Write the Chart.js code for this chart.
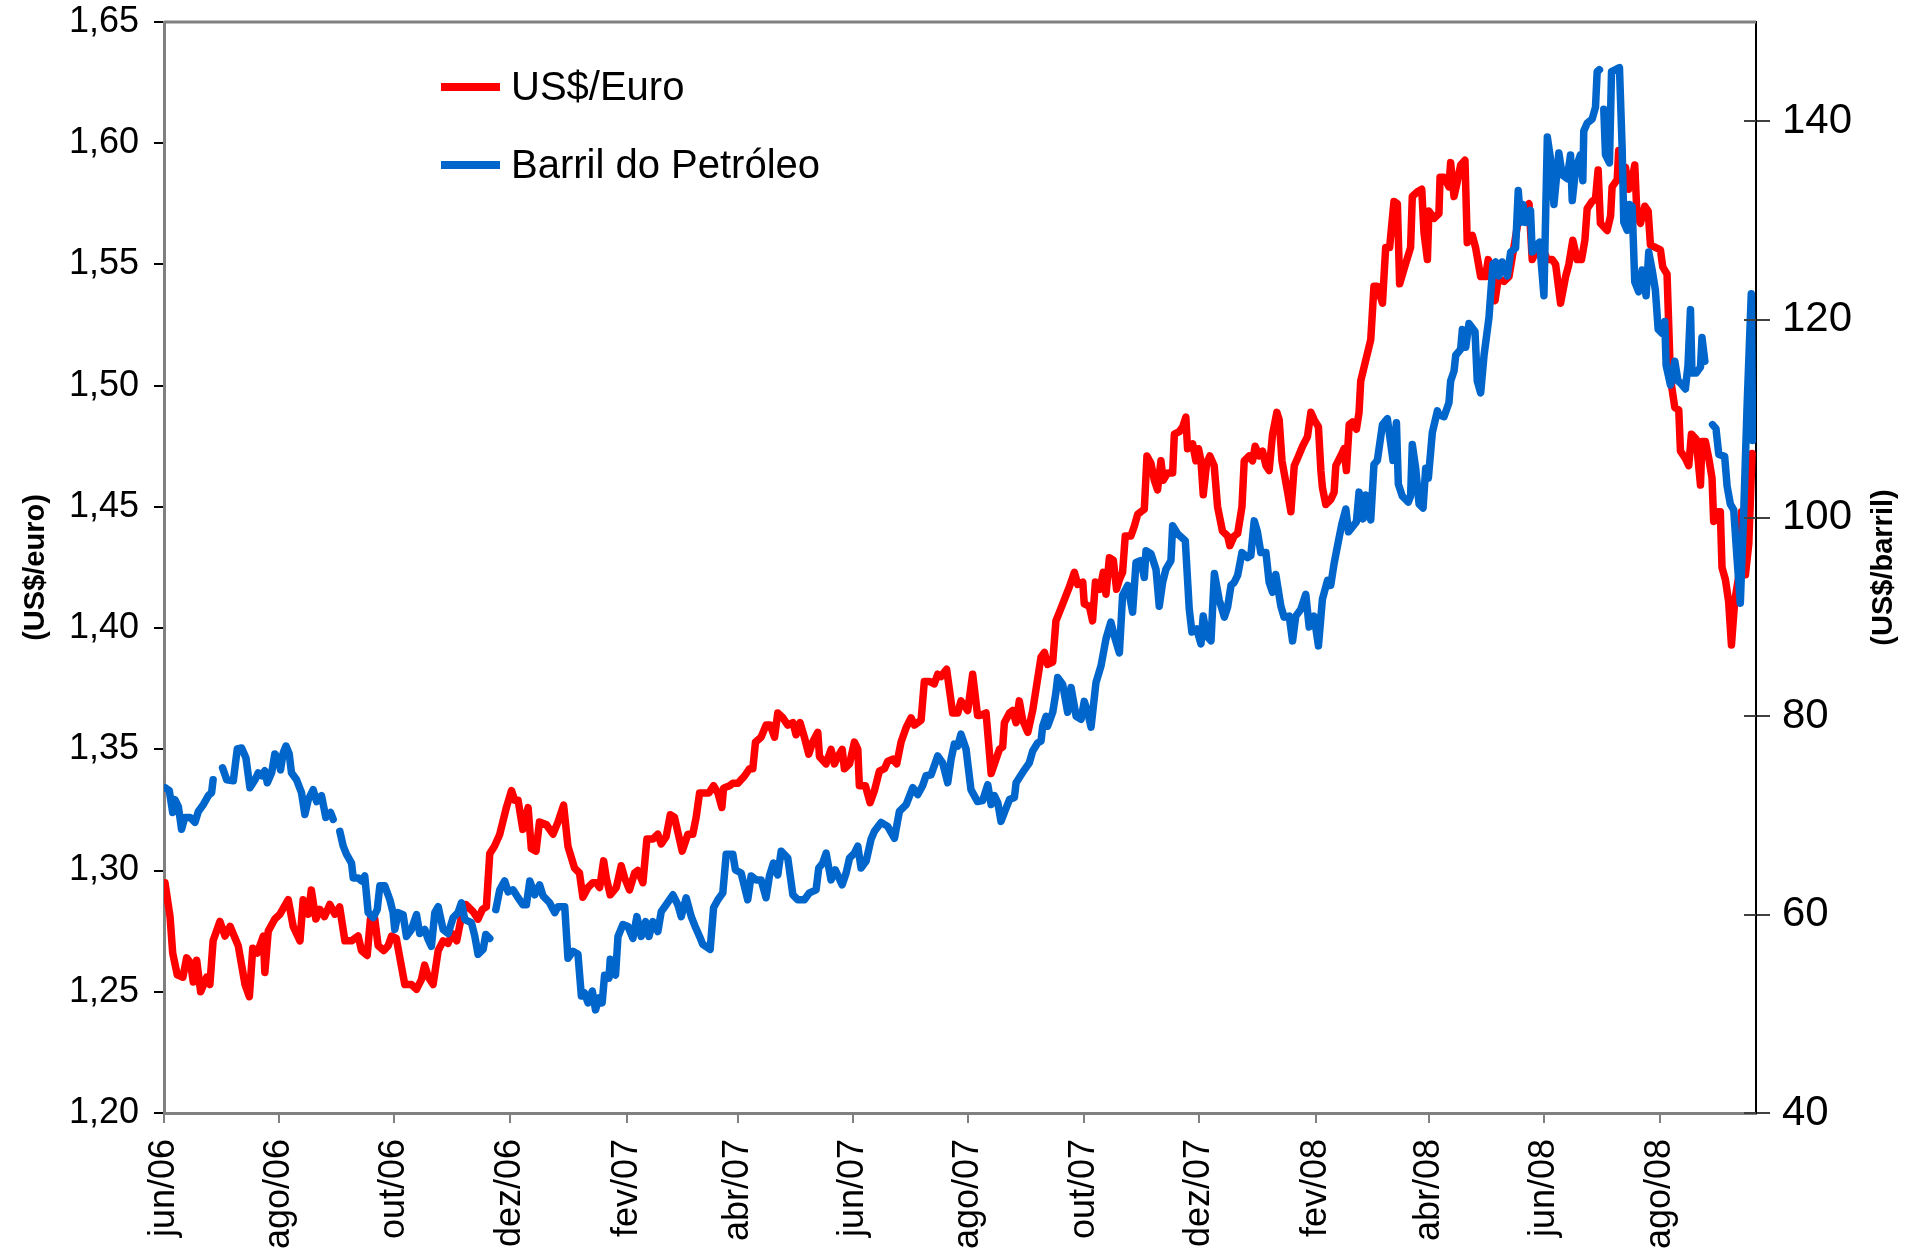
<!DOCTYPE html>
<html lang="pt-BR">
<head>
<meta charset="utf-8">
<title>US$/Euro e Barril do Petróleo</title>
<script src="https://cdn.jsdelivr.net/npm/chart.js@4.4.1/dist/chart.umd.min.js"></script>
<style>
  html, body { margin: 0; padding: 0; background: #fff; }
  #grafico { display: block; }
</style>
</head>
<body>
<canvas id="grafico" width="1907" height="1252"></canvas>
<script>
// Eixo X: dias corridos desde 01/jun/2006
const rotulos = ['jun/06', 'ago/06', 'out/06', 'dez/06', 'fev/07', 'abr/07', 'jun/07',
                 'ago/07', 'out/07', 'dez/07', 'fev/08', 'abr/08', 'jun/08', 'ago/08'];
const diasRotulos = [0, 61, 122, 183, 245, 304, 365, 426, 487, 548, 610, 670, 731, 792];
const ultimoDia = 843;

// US$/Euro (eixo esquerdo)
const diasEuro = [
  0.5, 3.2, 4.6, 7, 10, 12, 14, 15.5, 17.3, 19.4,
  22.6, 24.3, 26, 29.6, 32.3, 35, 39.3, 42.9, 45.2, 47,
  49.4, 52.6, 53.4, 55.2, 58.7, 61.4, 65.8, 68.4, 72, 73.7,
  76.4, 78, 80.4, 82.5, 85, 87.8, 90.5, 93, 95.8, 99.3,
  102.8, 104.6, 107.6, 109.3, 111.6, 113.4, 116.4, 118.7, 120.5, 123,
  124.9, 127.5, 131, 133.7, 136.3, 138, 140, 142.5, 145.2, 147.8,
  150.4, 152.7, 155, 157.5, 159.8, 163.7, 166.3, 168.6, 170.7, 172.5,
  175, 177.8, 181.3, 184, 185.7, 187.5, 190, 192.8, 194.5, 197,
  198.8, 202.4, 206, 208.6, 211.6, 213.9, 217.4, 220, 221.8, 224.5,
  227.1, 228.9, 230.7, 232.8, 234.2, 236.3, 239.5, 242.1, 243.9, 246.5,
  249.2, 250.9, 253.6, 255.7, 258.9, 261.5, 263.3, 265.9, 268.1, 270.3,
  274.4, 277.4, 280, 281.8, 283.6, 286.2, 288.5, 291, 293.3, 295.4,
  296.3, 299.5, 301.2, 303.9, 307.4, 310, 311.8, 313.2, 316.2, 318.8,
  321, 323.3, 325, 327.7, 330.3, 333, 334.7, 336.8, 339.1, 341.4,
  343.5, 346.2, 347.1, 350.6, 353.2, 355, 356.8, 359.1, 360.3, 363,
  365.6, 367.4, 368.2, 371.4, 373.9, 376.2, 378.8, 381.5, 383.2, 385.9,
  388, 390.3, 393, 395.6, 397.3, 400.9, 402.6, 405.3, 407.9, 409.7,
  411.4, 414.4, 416.2, 417.6, 420.3, 422, 423.8, 425.6, 428.2, 430.8,
  432.1, 435.3, 438, 440.6, 442.4, 444.1, 445, 447.7, 449.4, 451.2,
  452.9, 454.7, 457.4, 460, 462.6, 464.4, 466.2, 467.9, 470.6, 472.3,
  475.9, 479.4, 482.1, 483.8, 486.5, 487.3, 490, 491.7, 493.2, 495.6,
  497.4, 498.8, 500.6, 502.7, 504.4, 505.9, 507.6, 509, 512, 513.8,
  515.6, 517.3, 519.1, 520.5, 522.6, 524.4, 526.1, 527.9, 529.1, 531.4,
  534.1, 535, 537.6, 539.4, 541.1, 542, 544.7, 546.4, 547.8, 549.1,
  550.3, 552.1, 553.8, 556.1, 557.9, 560.5, 563.2, 564.4, 566.7, 568.5,
  570.8, 572, 574.6, 576.4, 577.8, 579.9, 581.7, 583.5, 585.2, 587,
  589.3, 590.5, 592, 595, 596.7, 598.5, 600.2, 602.9, 605.5, 607.3,
  609, 611.3, 612.6, 613.4, 615.2, 617.8, 619.6, 620.5, 623.1, 624.9,
  626.1, 627.6, 629.3, 631.4, 632.8, 633.7, 639, 640.7, 642.5, 645.2,
  646.9, 649, 651.3, 653.1, 654.3, 656.6, 660.1, 661, 663.7, 666,
  667.2, 669, 669.8, 672.5, 675.1, 675.7, 677.8, 680.4, 681.3, 683.1,
  684.8, 686.6, 688.9, 690.1, 692.8, 694.5, 697.2, 699.8, 701.2, 703,
  704.8, 706.5, 709.5, 712.2, 714.8, 717.5, 720.1, 722.8, 724.5, 727.2,
  729.8, 732.5, 735.1, 736.9, 739.5, 742.2, 743.9, 746, 748.3, 750.6,
  752.4, 753.6, 756.2, 758, 759.4, 760.6, 764.2, 766, 766.8, 769.5,
  770.3, 772.1, 773.9, 775.6, 777.4, 778.8, 780, 781.8, 784.1, 785.9,
  787.1, 789.7, 792.4, 793.6, 795.9, 797.7, 800, 802.1, 803, 805.6,
  807.4, 808.8, 811.3, 813.6, 814.4, 816.2, 818, 819.7, 820.6, 822.4,
  824.1, 825, 826.8, 828.5, 830, 831.7, 833.8, 835.3, 837.4, 839.2,
  840.9
];
const usdEuro = [
  1.295, 1.281, 1.266, 1.257, 1.256, 1.264, 1.262, 1.254, 1.263, 1.250,
  1.256, 1.253, 1.271, 1.279, 1.273, 1.277, 1.269, 1.253, 1.248, 1.268,
  1.266, 1.273, 1.258, 1.275, 1.280, 1.282, 1.288, 1.277, 1.271, 1.288,
  1.282, 1.292, 1.280, 1.284, 1.281, 1.286, 1.282, 1.285, 1.271, 1.271,
  1.273, 1.267, 1.265, 1.280, 1.280, 1.269, 1.267, 1.269, 1.273, 1.272,
  1.264, 1.253, 1.253, 1.251, 1.255, 1.261, 1.256, 1.253, 1.267, 1.271,
  1.270, 1.274, 1.271, 1.281, 1.286, 1.283, 1.280, 1.284, 1.285, 1.307,
  1.310, 1.315, 1.326, 1.333, 1.329, 1.329, 1.317, 1.326, 1.309, 1.308,
  1.320, 1.319, 1.315, 1.320, 1.327, 1.310, 1.301, 1.299, 1.289, 1.293,
  1.295, 1.295, 1.293, 1.304, 1.297, 1.290, 1.293, 1.302, 1.297, 1.292,
  1.299, 1.300, 1.295, 1.313, 1.313, 1.315, 1.311, 1.314, 1.323, 1.322,
  1.308, 1.315, 1.315, 1.322, 1.332, 1.332, 1.332, 1.335, 1.332, 1.326,
  1.334, 1.335, 1.336, 1.336, 1.339, 1.342, 1.342, 1.353, 1.355, 1.360,
  1.360, 1.355, 1.365, 1.363, 1.360, 1.361, 1.356, 1.361, 1.355, 1.348,
  1.353, 1.357, 1.347, 1.344, 1.350, 1.344, 1.347, 1.350, 1.342, 1.344,
  1.353, 1.350, 1.335, 1.335, 1.328, 1.333, 1.341, 1.342, 1.345, 1.346,
  1.344, 1.353, 1.359, 1.363, 1.360, 1.362, 1.378, 1.378, 1.377, 1.381,
  1.380, 1.383, 1.373, 1.365, 1.365, 1.370, 1.368, 1.366, 1.381, 1.364,
  1.364, 1.365, 1.340, 1.346, 1.350, 1.351, 1.361, 1.365, 1.366, 1.361,
  1.370, 1.362, 1.357, 1.366, 1.379, 1.388, 1.390, 1.385, 1.386, 1.403,
  1.410, 1.417, 1.423, 1.418, 1.419, 1.410, 1.409, 1.403, 1.419, 1.416,
  1.423, 1.414, 1.429, 1.428, 1.416, 1.420, 1.423, 1.438, 1.438, 1.442,
  1.447, 1.448, 1.449, 1.471, 1.468, 1.461, 1.457, 1.469, 1.461, 1.464,
  1.464, 1.480, 1.481, 1.483, 1.487, 1.474, 1.476, 1.469, 1.474, 1.469,
  1.455, 1.468, 1.471, 1.467, 1.450, 1.440, 1.438, 1.434, 1.438, 1.439,
  1.450, 1.469, 1.471, 1.469, 1.475, 1.471, 1.473, 1.467, 1.465, 1.480,
  1.489, 1.486, 1.469, 1.456, 1.448, 1.467, 1.470, 1.475, 1.479, 1.489,
  1.486, 1.483, 1.465, 1.458, 1.451, 1.453, 1.456, 1.467, 1.471, 1.474,
  1.465, 1.484, 1.485, 1.482, 1.489, 1.502, 1.519, 1.541, 1.541, 1.534,
  1.557, 1.557, 1.576, 1.575, 1.542, 1.548, 1.557, 1.578, 1.580, 1.581,
  1.563, 1.552, 1.572, 1.569, 1.571, 1.586, 1.586, 1.582, 1.592, 1.578,
  1.584, 1.591, 1.593, 1.559, 1.562, 1.557, 1.545, 1.545, 1.552, 1.547,
  1.535, 1.544, 1.543, 1.545, 1.557, 1.570, 1.573, 1.575, 1.552, 1.557,
  1.557, 1.552, 1.552, 1.550, 1.534, 1.545, 1.550, 1.560, 1.552, 1.552,
  1.560, 1.573, 1.576, 1.577, 1.589, 1.567, 1.564, 1.570, 1.582, 1.585,
  1.597, 1.585, 1.590, 1.581, 1.585, 1.591, 1.570, 1.567, 1.574, 1.572,
  1.558, 1.557, 1.556, 1.549, 1.546, 1.503, 1.491, 1.490, 1.473, 1.470,
  1.467, 1.480, 1.478, 1.459, 1.477, 1.477, 1.470, 1.462, 1.444, 1.448,
  1.448, 1.425, 1.420, 1.411, 1.393, 1.411, 1.421, 1.448, 1.422, 1.435,
  1.472
];

// Barril do petróleo em US$ (eixo direito); null = sem cotação
const diasBarril = [
  0.5, 2.8, 4.6, 5.8, 7.6, 9.3, 11, 13.8, 16.4, 18.2,
  20.8, 23.5, 25.2, 26, 28.5, 31, 33.2, 36.7, 38.8, 41.1,
  43.4, 45.5, 48.2, 49.9, 51.7, 53.4, 54.7, 57, 58.7, 60.5,
  61.7, 63.1, 64.6, 66.3, 67.5, 70.2, 72.8, 74.6, 76.4, 79,
  80.8, 83.4, 85.7, 88.2, 89.6, 91.5, 93.1, 94.9, 96.6, 99.3,
  100.2, 102.8, 104.6, 106.3, 108.1, 110.8, 112.9, 114.3, 116.9, 119.6,
  121.3, 122.2, 124, 126.6, 128.4, 131, 133.7, 135.4, 138.1, 139.9,
  141.6, 143.4, 145.2, 147.8, 150.5, 153.1, 155.7, 157.5, 159.3, 162.8,
  164.6, 166.3, 169, 170.4, 172.5, 174, 175.7, 177.8, 180.4, 182.2,
  184.8, 187.5, 190.1, 191.9, 193.7, 196.3, 198.9, 200.7, 204.2, 206.9,
  208.6, 212.2, 213.9, 216.5, 219.2, 221, 222.7, 224.5, 226.8, 228.5,
  230.3, 232, 233.3, 235.6, 236.3, 239.1, 240.4, 243, 245.7, 248.3,
  250.4, 252.7, 255, 256.8, 258.9, 261.5, 263.3, 265.9, 269.5, 272.1,
  273.9, 276.5, 279.2, 281.5, 283.6, 285.3, 289.2, 291, 293.3, 295.9,
  297.7, 301.2, 302.6, 305.6, 309.1, 310.9, 313.6, 316.2, 318.8, 320.6,
  322.7, 325, 326.8, 330.3, 333, 335.6, 339.1, 341.8, 345.3, 346.7,
  348.8, 350.6, 353.2, 355.5, 359.1, 361.2, 363, 365.6, 367.4, 369.1,
  371.8, 374.4, 376.2, 379.7, 383.2, 386.8, 389.4, 393, 396.5, 399.1,
  401.7, 403.5, 406.2, 409.7, 412.3, 415, 416.8, 418.5, 420.3, 422,
  424.7, 427.3, 430.8, 433.5, 436.2, 438, 439.7, 441.5, 443.2, 445,
  447.7, 450.3, 451.2, 452.9, 455.6, 458.2, 460, 462.6, 464.4, 465.3,
  467.1, 467.9, 470.6, 472.3, 473.2, 475.9, 478.5, 480.3, 483, 485.6,
  487.3, 489.1, 490.9, 493.5, 496.2, 498.8, 501.4, 503.2, 505.9, 507.6,
  510.3, 512.9, 514.7, 517.3, 519.1, 520, 522.6, 525.3, 527, 528.8,
  530.5, 533.2, 534.1, 536.7, 540.8, 542.9, 544.3, 546.8, 549.1, 550.3,
  552.1, 554.4, 556.2, 558.8, 561.5, 563.2, 565, 566.7, 568.5, 570.8,
  573.8, 575.5, 577.3, 579, 580.8, 583.5, 585.2, 587, 588.7, 591.4,
  593.1, 595.8, 597.6, 599.3, 602, 604.6, 606.4, 609, 611.3, 613.4,
  616.1, 617.8, 619.6, 621.4, 623.7, 625.8, 627.2, 629.3, 631.4, 632.8,
  635, 636.4, 639, 640.7, 642.5, 645.2, 647.8, 650.8, 652.6, 653.6,
  655.7, 658.9, 660.1, 661, 662.8, 664.6, 666.7, 668.1, 669.5, 671.6,
  674.3, 675.1, 677.8, 680.4, 681.3, 683.1, 684, 686.6, 687.5, 689.3,
  691, 694.2, 695.4, 697.2, 699, 701.6, 703.7, 705.1, 706.9, 708.6,
  711.3, 713.1, 715.7, 717.1, 718.4, 719.6, 721, 723.6, 724.5, 726.3,
  728.4, 730.7, 732.5, 734.2, 736, 738.6, 740.4, 743, 744.8, 745.7,
  747.5, 750, 751.3, 751.8, 753.6, 756.2, 758, 758.9, 760.1, 761.2,
  762.4, 763.3, 765.4, 766.5, 768.6, 770.7, 772.1, 773, 774.8, 776,
  777.4, 778.8, 780.9, 782.7, 784.8, 786.2, 788, 789.7, 791.2, 793.3,
  794.7, 795.4, 797.7, 800, 801.7, 803, 805.6, 807, 808.3, 809.1,
  811.3, 813.6, 814.4, 815.9, 818, 820, 821.8, 823.3, 826.4, 827.7,
  829.4, 831.2, 833, 834.7, 836.5, 838.3, 840.5, 841.2
];
const barril = [
  72.8, 72.5, 70.3, 71.6, 70.9, 68.6, 69.8, 69.8, 69.3, 70.4,
  71.1, 72.0, 72.3, 73.6, null, 74.8, 73.6, 73.5, 76.7, 76.8,
  75.8, 72.8, 73.6, 74.3, 74.0, 74.5, 73.3, 74.3, 76.2, 75.7,
  74.6, 76.3, 77.0, 76.2, 74.3, 73.6, 72.3, 70.1, 71.6, 72.6,
  71.4, 72.0, 69.8, 70.3, 69.6, null, 68.4, 66.9, 66.1, 65.2,
  63.7, 63.7, 63.4, 63.9, 60.2, 59.7, 60.5, 62.9, 62.9, 61.5,
  60.2, 58.5, 60.2, 60.0, 57.8, 58.5, 60.0, 58.1, 58.5, 57.5,
  56.8, 60.2, 60.8, 58.5, 58.1, 59.7, 60.2, 61.2, 59.5, 59.2,
  57.8, 56.0, 56.5, 58.0, 57.6, null, 60.5, 62.5, 63.4, 62.3,
  62.5, 61.7, 61.0, 61.0, 63.4, 62.0, 63.0, 61.9, 61.2, 60.2,
  60.8, 60.8, 55.6, 56.3, 56.0, 51.8, 52.1, 51.1, 52.3, 50.4,
  51.6, 51.1, 53.9, 53.6, 55.5, 53.9, 57.8, 59.0, 58.8, 57.6,
  59.8, 57.8, 59.3, 57.8, 59.3, 58.3, 60.3, 61.0, 62.0, 61.0,
  59.8, 61.7, 59.8, 58.7, 57.8, 57.0, 56.5, 60.7, 61.5, 62.2,
  66.1, 66.1, 64.5, 64.2, 61.5, 63.9, 63.5, 63.5, 61.7, 63.9,
  65.2, 64.0, 66.4, 65.7, 62.0, 61.5, 61.5, 62.2, 62.5, 64.7,
  65.2, 66.2, 63.5, 64.5, 63.0, 64.2, 65.7, 66.2, 66.9, 64.7,
  65.4, 67.6, 68.4, 69.3, 68.9, 67.7, 70.4, 71.1, 72.8, 72.1,
  73.0, 74.0, 74.1, 76.0, 75.3, 73.3, 75.7, 77.2, 77.0, 78.2,
  76.7, 72.6, 71.4, 71.5, 73.1, 71.1, 72.0, 71.3, 69.4, 70.3,
  71.6, 71.8, 73.3, 73.8, 74.6, 75.3, 76.5, 77.3, 77.5, 79.0,
  80.0, 79.0, 80.4, 82.4, 83.9, 83.2, 80.4, 82.9, 80.0, 79.7,
  81.5, 80.4, 78.9, 83.4, 85.1, 87.8, 89.5, 88.1, 86.4, 92.2,
  93.2, 90.5, 95.5, 95.7, 94.0, 96.7, 96.4, 94.8, 91.1, 93.5,
  94.8, 95.7, 99.2, 98.4, 97.7, 90.8, 88.5, 88.8, 87.3, 90.1,
  88.1, 87.6, 94.4, 91.7, 90.0, 91.0, 93.2, 93.5, 94.2, 96.5,
  96.0, 96.2, 99.7, 98.6, 96.5, 96.5, 93.5, 92.5, 94.3, 91.1,
  90.0, 90.1, 87.6, 90.1, 90.8, 92.3, 89.0, 90.1, 87.1, 91.8,
  93.7, 93.2, 95.4, 97.2, 99.4, 100.9, 98.6, 99.1, 99.6, 102.6,
  99.9, 102.3, 99.8, 105.4, 105.8, 109.4, 110.0, 105.8, 109.6, 103.4,
  102.2, 101.6, 102.2, 107.4, 105.0, 101.4, 101.0, 105.0, 104.0, 108.6,
  110.8, 110.4, 110.2, 111.6, 113.8, 114.8, 116.4, 117.0, 119.0, 117.2,
  119.6, 118.8, 113.8, 112.6, 116.4, 120.2, 125.6, 125.8, 124.4, 125.8,
  124.4, 126.8, 127.2, 133.0, 129.8, 131.6, 129.8, 131.0, 126.8, 127.4,
  127.8, 122.4, 138.4, 136.2, 131.6, 136.8, 134.6, 134.2, 136.6, 132.0,
  135.2, 136.6, 134.0, 139.0, 139.8, 140.2, 141.4, 145.0, 145.2, null,
  141.2, 136.6, 135.8, 145.0, 145.2, 145.4, 137.4, 129.8, 129.0, 131.6,
  131.4, 123.8, 122.8, 125.0, 122.4, 126.8, 125.0, 123.0, 119.0, 118.6,
  119.8, 115.4, 113.4, 115.8, 113.8, 113.6, 113.0, 115.4, 121.0, 114.6,
  114.6, 115.2, 118.2, 115.8, null, 109.4, 109.0, 106.4, 106.2, 103.2,
  101.4, 100.8, 95.8, 91.4, 100.6, 111.4, 122.6, 107.8
];

const fonte = "'Liberation Sans', Arial, sans-serif";
const corEuro = '#ff0000';
const corBarril = '#0066cc';

// legenda desenhada dentro da área do gráfico, como no original
const legendaManual = {
  id: 'legendaManual',
  afterDraw(chart) {
    const ctx = chart.ctx;
    ctx.save();
    ctx.font = '40px ' + fonte;
    ctx.textBaseline = 'middle';
    ctx.fillStyle = '#000';
    chart.data.datasets.forEach((ds, i) => {
      const y = 87 + i * 78;
      ctx.strokeStyle = ds.borderColor;
      ctx.lineWidth = 8;
      ctx.beginPath();
      ctx.moveTo(441, y);
      ctx.lineTo(500, y);
      ctx.stroke();
      ctx.fillText(ds.label, 511, y + 2);
    });
    ctx.restore();
  }
};

// borda superior, marcas cruzando o eixo direito e título do eixo direito
const molduraExtra = {
  id: 'molduraExtra',
  afterDraw(chart) {
    const { ctx, chartArea } = chart;
    ctx.save();
    ctx.strokeStyle = '#808080';
    ctx.lineWidth = 3;
    ctx.beginPath();
    ctx.moveTo(chartArea.left, chartArea.top);
    ctx.lineTo(chartArea.right, chartArea.top);
    ctx.stroke();

    const y2 = chart.scales.y2;
    ctx.strokeStyle = '#404040';
    ctx.lineWidth = 2;
    y2.ticks.forEach(t => {
      const py = Math.round(y2.getPixelForValue(t.value));
      ctx.beginPath();
      ctx.moveTo(chartArea.right - 12, py);
      ctx.lineTo(chartArea.right, py);
      ctx.stroke();
    });

    ctx.translate(1884, (chartArea.top + chartArea.bottom) / 2);
    ctx.rotate(-Math.PI / 2);
    ctx.font = 'bold 29px ' + fonte;
    ctx.fillStyle = '#000';
    ctx.textAlign = 'center';
    ctx.textBaseline = 'middle';
    ctx.fillText('(US$/barril)', 0, 0);
    ctx.restore();
  }
};

new Chart(document.getElementById('grafico'), {
  type: 'line',
  data: {
    datasets: [{
      label: 'US$/Euro',
      data: diasEuro.map((d, i) => ({ x: d, y: usdEuro[i] })),
      borderColor: corEuro,
      yAxisID: 'y',
      order: 2
    }, {
      label: 'Barril do Petróleo',
      data: diasBarril.map((d, i) => ({ x: d, y: barril[i] })),
      borderColor: corBarril,
      yAxisID: 'y2',
      order: 1
    }]
  },
  options: {
    responsive: false,
    animation: false,
    spanGaps: false,
    layout: { padding: 0 },
    elements: {
      point: { radius: 0, hoverRadius: 0 },
      line: { borderWidth: 7.5, tension: 0, borderJoinStyle: 'round', borderCapStyle: 'round', fill: false }
    },
    plugins: {
      legend: { display: false },
      tooltip: { enabled: false }
    },
    scales: {
      x: {
        type: 'linear',
        min: 0,
        max: ultimoDia,
        afterBuildTicks: (scale) => { scale.ticks = diasRotulos.map(v => ({ value: v })); },
        afterFit: (scale) => { scale.height = 139; },
        border: { color: '#808080', width: 3 },
        grid: { drawOnChartArea: false, tickLength: 10, color: '#808080', lineWidth: 2 },
        ticks: {
          autoSkip: false,
          minRotation: 90,
          maxRotation: 90,
          padding: 16,
          color: '#000',
          font: { family: fonte, size: 36 },
          callback: (v) => rotulos[diasRotulos.indexOf(v)]
        }
      },
      y: {
        position: 'left',
        min: 1.2,
        max: 1.65,
        afterFit: (scale) => { scale.width = 164; scale.paddingTop = 22; },
        border: { color: '#808080', width: 3 },
        grid: { drawOnChartArea: false, tickLength: 10, color: '#000', lineWidth: 2 },
        title: {
          display: true,
          text: '(US$/euro)',
          color: '#000',
          font: { family: fonte, size: 29, weight: 'bold' },
          padding: { top: 19, bottom: 0 }
        },
        ticks: {
          stepSize: 0.05,
          padding: 15,
          color: '#000',
          font: { family: fonte, size: 36 },
          callback: (v) => v.toFixed(2).replace('.', ',')
        }
      },
      y2: {
        position: 'right',
        min: 40,
        max: 150,
        afterFit: (scale) => { scale.width = 151; scale.paddingTop = 22; },
        afterBuildTicks: (scale) => { scale.ticks = scale.ticks.filter(t => t.value % 20 === 0); },
        border: { color: '#000', width: 2 },
        grid: { drawOnChartArea: false, tickLength: 14, color: '#404040', lineWidth: 2 },
        ticks: {
          stepSize: 20,
          padding: 12,
          color: '#000',
          font: { family: fonte, size: 42 },
          callback: (v) => String(v)
        }
      }
    }
  },
  plugins: [legendaManual, molduraExtra]
});
</script>
</body>
</html>
